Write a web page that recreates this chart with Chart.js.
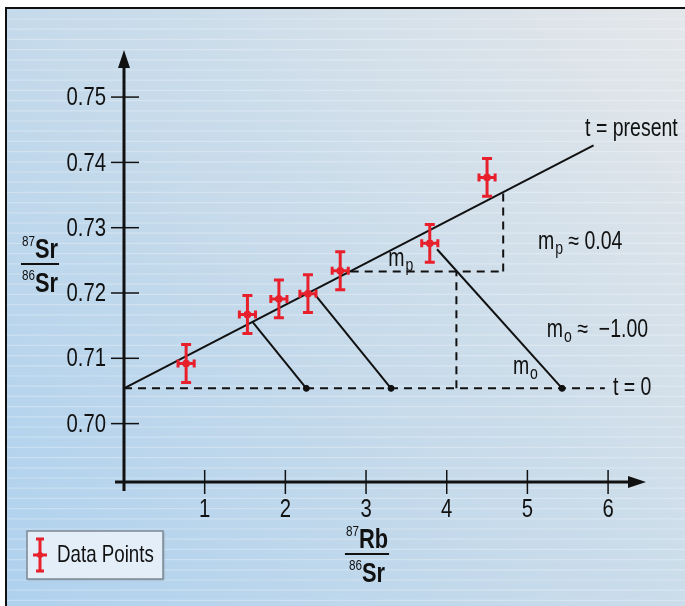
<!DOCTYPE html>
<html>
<head>
<meta charset="utf-8">
<script src="https://cdn.jsdelivr.net/npm/chart.js@4.4.0/dist/chart.umd.min.js"></script>
<style>
  html, body { margin: 0; padding: 0; background: #fff; }
  #wrap { position: relative; width: 685px; height: 606px; }
</style>
</head>
<body>
<div id="wrap"><canvas id="isochron" width="685" height="606"></canvas></div>
<script>
// --- DATA ---
const xTicks = [1, 2, 3, 4, 5, 6];
const yTicks = [0.70, 0.71, 0.72, 0.73, 0.74, 0.75];

// measured samples (87Rb/86Sr, 87Sr/86Sr) with error bars
const sampleRb = [0.77, 1.53, 1.92, 2.28, 2.68, 3.79, 4.50];
const sampleSr = [0.7092, 0.7167, 0.7191, 0.7199, 0.7234, 0.7276, 0.7377];
const errRb = [0.10, 0.10, 0.10, 0.10, 0.10, 0.10, 0.10];
const errSr = [0.0029, 0.0029, 0.0029, 0.0029, 0.0029, 0.0029, 0.0029];

// isochron (t = present) and initial line (t = 0)
const isoX = [0, 5.82];
const isoY = [0.7054, 0.7426];
const t0X = [0, 5.96];
const t0Y = 0.7054;

// evolution lines from isochron back to t = 0
const evoStartX = [1.59, 2.37, 3.88];
const evoStartY = [0.7156, 0.7197, 0.7267];
const evoEndX = [2.26, 3.31, 5.43];

// slope construction (dashed)
const runX = [2.81, 4.70];
const runY = 0.7233;
const riseY = [0.7233, 0.7354];
const dropX = 4.12;

const FONT = "'Liberation Sans', Arial, sans-serif";
const SX = 0.78; // condensed look
const RED = '#e8202c';

const pts = sampleRb.map((x, i) => ({ x: x, y: sampleSr[i] }));
const lineDs = (data, dash, width) => ({
  type: 'line', data: data, borderColor: '#111', borderWidth: width || 2,
  borderDash: dash || [], pointRadius: 0, showLine: true, fill: false, tension: 0
});

const datasets = [
  { label: 'Data Points', data: pts, backgroundColor: RED, borderColor: RED,
    pointRadius: 3.5, pointHoverRadius: 3.5 },
  lineDs([{ x: isoX[0], y: isoY[0] }, { x: isoX[1], y: isoY[1] }], [], 2),
  lineDs([{ x: t0X[0], y: t0Y }, { x: t0X[1], y: t0Y }], [8, 6], 2),
  lineDs([{ x: runX[0], y: runY }, { x: runX[1], y: runY }], [8, 6], 2),
  lineDs([{ x: runX[1], y: riseY[0] }, { x: runX[1], y: riseY[1] }], [8, 6], 2),
  lineDs([{ x: dropX, y: t0Y }, { x: dropX, y: runY }], [8, 6], 2)
];
evoStartX.forEach((sx, i) => {
  datasets.push(lineDs([{ x: sx, y: evoStartY[i] }, { x: evoEndX[i], y: t0Y }], [], 2));
});
datasets.push({ data: evoEndX.map(x => ({ x: x, y: t0Y })), backgroundColor: '#111',
  borderColor: '#111', pointRadius: 3, pointHoverRadius: 3 });

// condensed text helper, returns drawn width
function txt(c, s, x, y, size, bold, align) {
  c.save();
  c.font = (bold ? 'bold ' : '') + size + 'px ' + FONT;
  c.textAlign = align || 'left';
  c.translate(x, y);
  c.scale(SX, 1);
  c.fillText(s, 0, 0);
  const w = c.measureText(s).width * SX;
  c.restore();
  return w;
}
function txtW(c, s, size, bold) {
  c.font = (bold ? 'bold ' : '') + size + 'px ' + FONT;
  return c.measureText(s).width * SX;
}

// background, frame, stripes
const backdrop = {
  id: 'backdrop',
  beforeDraw(chart) {
    const c = chart.ctx, w = chart.width, h = chart.height;
    c.save();
    c.fillStyle = '#fff';
    c.fillRect(0, 0, w, h);
    const g = c.createLinearGradient(5, h, w, 7);
    g.addColorStop(0, '#afd1ee');
    g.addColorStop(0.55, '#cadcea');
    g.addColorStop(1, '#e4e7ea');
    c.fillStyle = g;
    c.fillRect(5, 7, w - 5, h - 7);
    c.strokeStyle = 'rgba(255,255,255,0.28)';
    c.lineWidth = 1.2;
    for (let y = 19; y < h; y += 10.2) {
      c.beginPath(); c.moveTo(6, y); c.lineTo(w, y); c.stroke();
    }
    c.fillStyle = '#111';
    c.fillRect(5, 7, w - 5, 2);
    c.fillRect(5, 7, 2, h - 7);
    c.restore();
  }
};

// error bars for the sample dataset
const errorBars = {
  id: 'errorBars',
  afterDatasetDraw(chart, args) {
    if (args.index !== 0) return;
    const c = chart.ctx, xs = chart.scales.x, ys = chart.scales.y;
    c.save();
    c.strokeStyle = RED;
    c.lineWidth = 3;
    sampleRb.forEach((v, i) => {
      const px = xs.getPixelForValue(v), py = ys.getPixelForValue(sampleSr[i]);
      const top = ys.getPixelForValue(sampleSr[i] + errSr[i]);
      const bot = ys.getPixelForValue(sampleSr[i] - errSr[i]);
      const l = xs.getPixelForValue(v - errRb[i]);
      const r = xs.getPixelForValue(v + errRb[i]);
      c.beginPath();
      c.moveTo(px, top); c.lineTo(px, bot);
      c.moveTo(px - 5, top); c.lineTo(px + 5, top);
      c.moveTo(px - 5, bot); c.lineTo(px + 5, bot);
      c.moveTo(l, py); c.lineTo(r, py);
      c.moveTo(l, py - 4); c.lineTo(l, py + 4);
      c.moveTo(r, py - 4); c.lineTo(r, py + 4);
      c.stroke();
    });
    c.restore();
  }
};

function fraction(c, cx, lineY, top, bottom) {
  const parts = [top, bottom];
  const ys = [lineY - 6, lineY + 28];
  let maxW = 0;
  parts.forEach((p, k) => {
    const w1 = txtW(c, p[0], 15, false);
    const w2 = txtW(c, p[1], 28, true);
    const x0 = cx - (w1 + w2) / 2;
    txt(c, p[0], x0, ys[k] - 12, 15, false);
    txt(c, p[1], x0 + w1, ys[k], 28, true);
    maxW = Math.max(maxW, w1 + w2);
  });
  c.fillRect(cx - maxW / 2 - 1, lineY - 1, maxW + 2, 2);
}

function subLabel(c, x, y, main, sub, size) {
  const w = txt(c, main, x, y, size, false);
  const w2 = txt(c, sub, x + w + 1, y + 7, Math.round(size * 0.72), false);
  return x + w + 1 + w2;
}

// axes, ticks, annotations, legend
const decor = {
  id: 'decor',
  afterDraw(chart) {
    const c = chart.ctx, xs = chart.scales.x, ys = chart.scales.y;
    const x0 = xs.getPixelForValue(0), y0 = ys.bottom;
    const xEnd = xs.right, yEnd = ys.top;
    c.save();
    c.fillStyle = '#111';
    c.strokeStyle = '#111';
    // axes
    c.lineWidth = 3;
    c.beginPath();
    c.moveTo(x0, y0 + 9); c.lineTo(x0, yEnd + 14);
    c.moveTo(x0 - 9, y0); c.lineTo(xEnd - 14, y0);
    c.stroke();
    c.beginPath();
    c.moveTo(x0, yEnd); c.lineTo(x0 - 6, yEnd + 18); c.lineTo(x0 + 6, yEnd + 18); c.closePath();
    c.moveTo(xEnd, y0); c.lineTo(xEnd - 18, y0 - 6); c.lineTo(xEnd - 18, y0 + 6); c.closePath();
    c.fill();
    // ticks
    c.lineWidth = 1.5;
    c.textBaseline = 'middle';
    yTicks.forEach(v => {
      const py = ys.getPixelForValue(v);
      c.beginPath(); c.moveTo(x0 - 13, py); c.lineTo(x0 + 15, py); c.stroke();
      txt(c, v.toFixed(2), x0 - 18, py + 1, 26, false, 'right');
    });
    xTicks.forEach(v => {
      const px = xs.getPixelForValue(v);
      c.beginPath(); c.moveTo(px, y0 - 12); c.lineTo(px, y0 + 12); c.stroke();
      txt(c, String(v), px, y0 + 28, 26, false, 'center');
    });
    // axis titles
    c.textBaseline = 'alphabetic';
    fraction(c, 40, 264, ['87', 'Sr'], ['86', 'Sr']);
    fraction(c, 367, 554, ['87', 'Rb'], ['86', 'Sr']);
    // annotations
    c.textBaseline = 'middle';
    txt(c, 't = present', xs.getPixelForValue(5.715), ys.getPixelForValue(0.7451), 25);
    txt(c, 't = 0', xs.getPixelForValue(6.06), ys.getPixelForValue(0.7054), 25);
    let ex = subLabel(c, xs.getPixelForValue(5.13), ys.getPixelForValue(0.7278), 'm', 'p', 25);
    txt(c, ' \u2248 0.04', ex, ys.getPixelForValue(0.7278), 25);
    ex = subLabel(c, xs.getPixelForValue(5.24), ys.getPixelForValue(0.7143), 'm', 'o', 25);
    txt(c, ' \u2248  \u22121.00', ex, ys.getPixelForValue(0.7143), 25);
    subLabel(c, xs.getPixelForValue(4.82), ys.getPixelForValue(0.7087), 'm', 'o', 25);
    subLabel(c, xs.getPixelForValue(3.275), ys.getPixelForValue(0.7252), 'm', 'p', 25);
    // legend
    c.save();
    c.shadowColor = 'rgba(0,0,0,0.25)';
    c.shadowOffsetX = 1; c.shadowOffsetY = 1; c.shadowBlur = 2;
    c.fillStyle = '#e3eef8';
    c.fillRect(27, 531, 136, 48);
    c.restore();
    c.strokeStyle = '#7d8893';
    c.lineWidth = 1.5;
    c.strokeRect(27, 531, 136, 48);
    c.strokeStyle = RED;
    c.lineWidth = 3;
    c.beginPath();
    c.moveTo(40, 539); c.lineTo(40, 571);
    c.moveTo(36, 539); c.lineTo(44, 539);
    c.moveTo(36, 571); c.lineTo(44, 571);
    c.moveTo(33, 555); c.lineTo(47, 555);
    c.stroke();
    c.fillStyle = RED;
    c.beginPath(); c.arc(40, 555, 3, 0, Math.PI * 2); c.fill();
    c.fillStyle = '#111';
    txt(c, 'Data Points', 57, 555, 24);
    c.restore();
  }
};

new Chart(document.getElementById('isochron'), {
  type: 'scatter',
  data: { datasets: datasets },
  options: {
    responsive: false,
    animation: false,
    events: [],
    layout: { padding: { left: 124, right: 39, top: 50, bottom: 124 } },
    plugins: { legend: { display: false }, tooltip: { enabled: false } },
    scales: {
      x: { type: 'linear', display: false, min: 0, max: 6.47 },
      y: { type: 'linear', display: false, min: 0.69106, max: 0.75721 }
    }
  },
  plugins: [backdrop, errorBars, decor]
});
</script>
</body>
</html>
